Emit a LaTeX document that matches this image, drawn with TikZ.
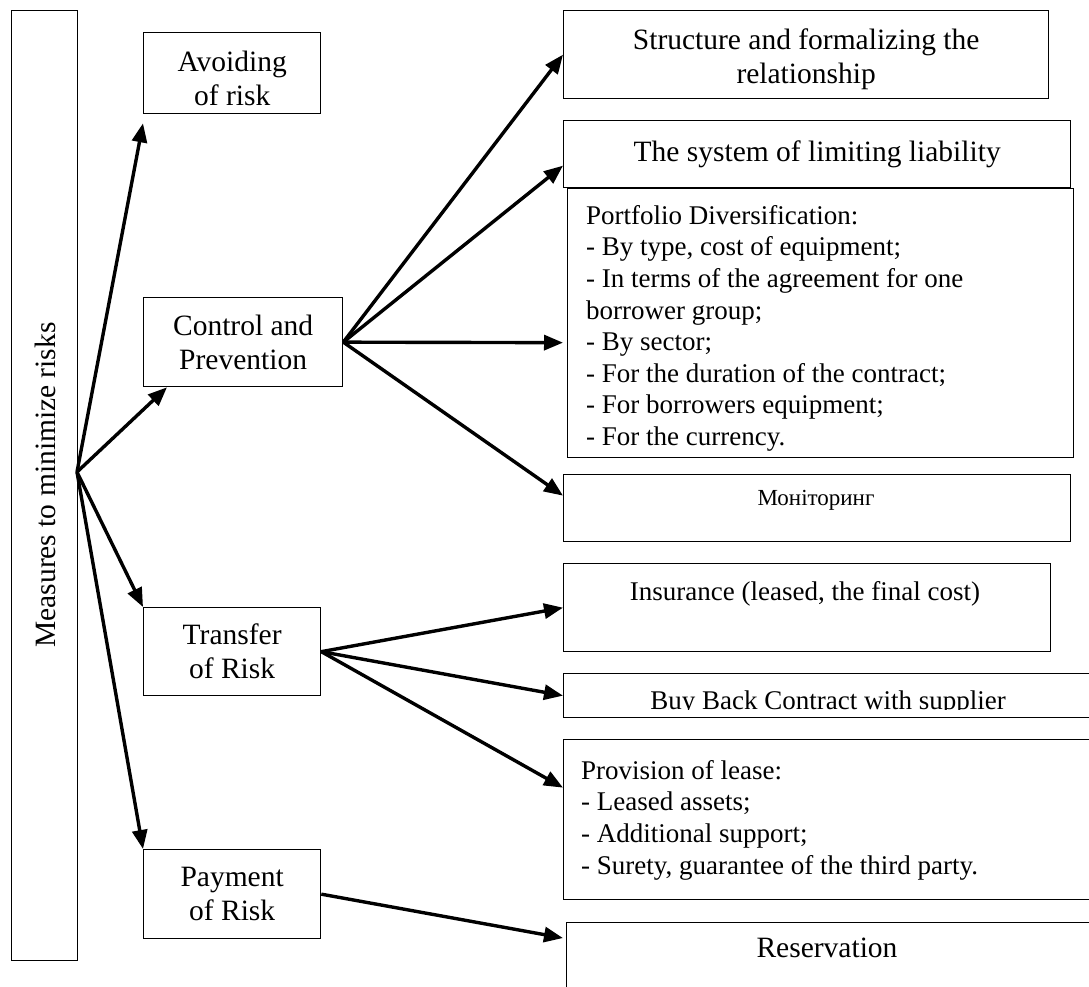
\documentclass[tikz,border=0pt]{standalone}
\usepackage{fontspec}
\setmainfont{Liberation Serif}
\usetikzlibrary{arrows.meta}
\tikzset{
  box/.style={draw, line width=1.3pt, anchor=north west, inner sep=0pt},
  big/.style={font=\fontsize{29.5}{34}\selectfont, align=center, inner sep=0pt},
  mid/.style={font=\fontsize{27}{31.6}\selectfont, align=left, inner sep=0pt},
  small/.style={font=\fontsize{23}{27}\selectfont, inner sep=0pt},
  arr/.style={line width=3.4pt, -{Triangle[length=19pt,width=15pt]}},
}
\begin{document}
\begin{tikzpicture}[x=1pt,y=-1pt]
\useasboundingbox (0,0) rectangle (1089,986);
\clip (0,0) rectangle (1089,986);

% left column
\node[box, minimum width=66pt, minimum height=950pt] (main) at (11,10) {};
\node[big, rotate=90] (main-t) at (45,485) {Measures to minimize risks};
\coordinate (hub) at (77,472);

\node[box, minimum width=177pt, minimum height=81pt] (avoid) at (143,32) {};
\node[big] (avoid-t) at ([yshift=-5pt]avoid.center) {Avoiding\\of risk};
\node[box, big, minimum width=199pt, minimum height=89pt] (ctrl) at (143,297) {Control and\\Prevention};
\node[box, big, minimum width=177pt, minimum height=88pt] (trans) at (143,607) {Transfer\\of Risk};
\node[box, big, minimum width=177pt, minimum height=89pt] (pay) at (143,849) {Payment\\of Risk};

% right column
\node[box, minimum width=485pt, minimum height=88pt] (struct) at (563,10) {};
\node[big] (struct-t) at ([yshift=-5pt]struct.center) {Structure and formalizing the\\relationship};
\node[box, big, minimum width=507pt, minimum height=67pt] (limit) at (563,120) {The system of limiting liability};
\node[box, minimum width=506pt, minimum height=269pt] (port) at (567,188) {};
\node[mid, anchor=north west] (port-t) at (586,205) {Portfolio Diversification:\\
- By type, cost of equipment;\\
- In terms of the agreement for one\\
borrower group;\\
- By sector;\\
- For the duration of the contract;\\
- For borrowers equipment;\\
- For the currency.};
\node[box, minimum width=507pt, minimum height=67pt] (moni) at (563,474) {};
\node[small] (moni-t) at (816,500) {Моніторинг};

\node[box, minimum width=487pt, minimum height=88pt] (ins) at (563,563) {};
\node[mid] (ins-t) at (805,594) {Insurance (leased, the final cost)};

\node[box, minimum width=532pt, minimum height=44pt] (buy) at (563,673) {};
\begin{scope}
  \clip (564,674) rectangle (1095,709.5);
  \node[mid, anchor=base] (buy-t) at (828,709) {Buy Back Contract with supplier};
\end{scope}

\node[box, minimum width=532pt, minimum height=160pt] (prov) at (563,739) {};
\node[mid, anchor=north west] (prov-t) at (581,760) {Provision of lease:\\
- Leased assets;\\
- Additional support;\\
- Surety, guarantee of the third party.};

\node[box, minimum width=529pt, minimum height=90pt] (res) at (566,922) {};
\node[big] (res-t) at (827,948) {Reservation};

% connectors
\draw[arr] (hub) -- ([yshift=-9pt]avoid.south west);
\draw[arr] (hub) -- ([xshift=24pt]ctrl.south west);
\draw[arr] (hub) -- (trans.north west);
\draw[arr] (hub) -- (pay.north west);

\draw[arr] (ctrl.east) -- (struct.west);
\draw[arr] (ctrl.east) -- ([yshift=-11.5pt]limit.west);
\draw[arr] (ctrl.east) -- ([xshift=-4pt,yshift=-19.5pt]port.west);
\draw[arr] (ctrl.east) -- ([yshift=12.5pt]moni.west);

\draw[arr] (trans.east) -- (ins.west);
\draw[arr] (trans.east) -- (buy.west);
\draw[arr] (trans.east) -- ([yshift=32pt]prov.west);

\draw[arr] (pay.east) -- ([xshift=-3pt,yshift=-16pt]res.north west);
\end{tikzpicture}
\end{document}
